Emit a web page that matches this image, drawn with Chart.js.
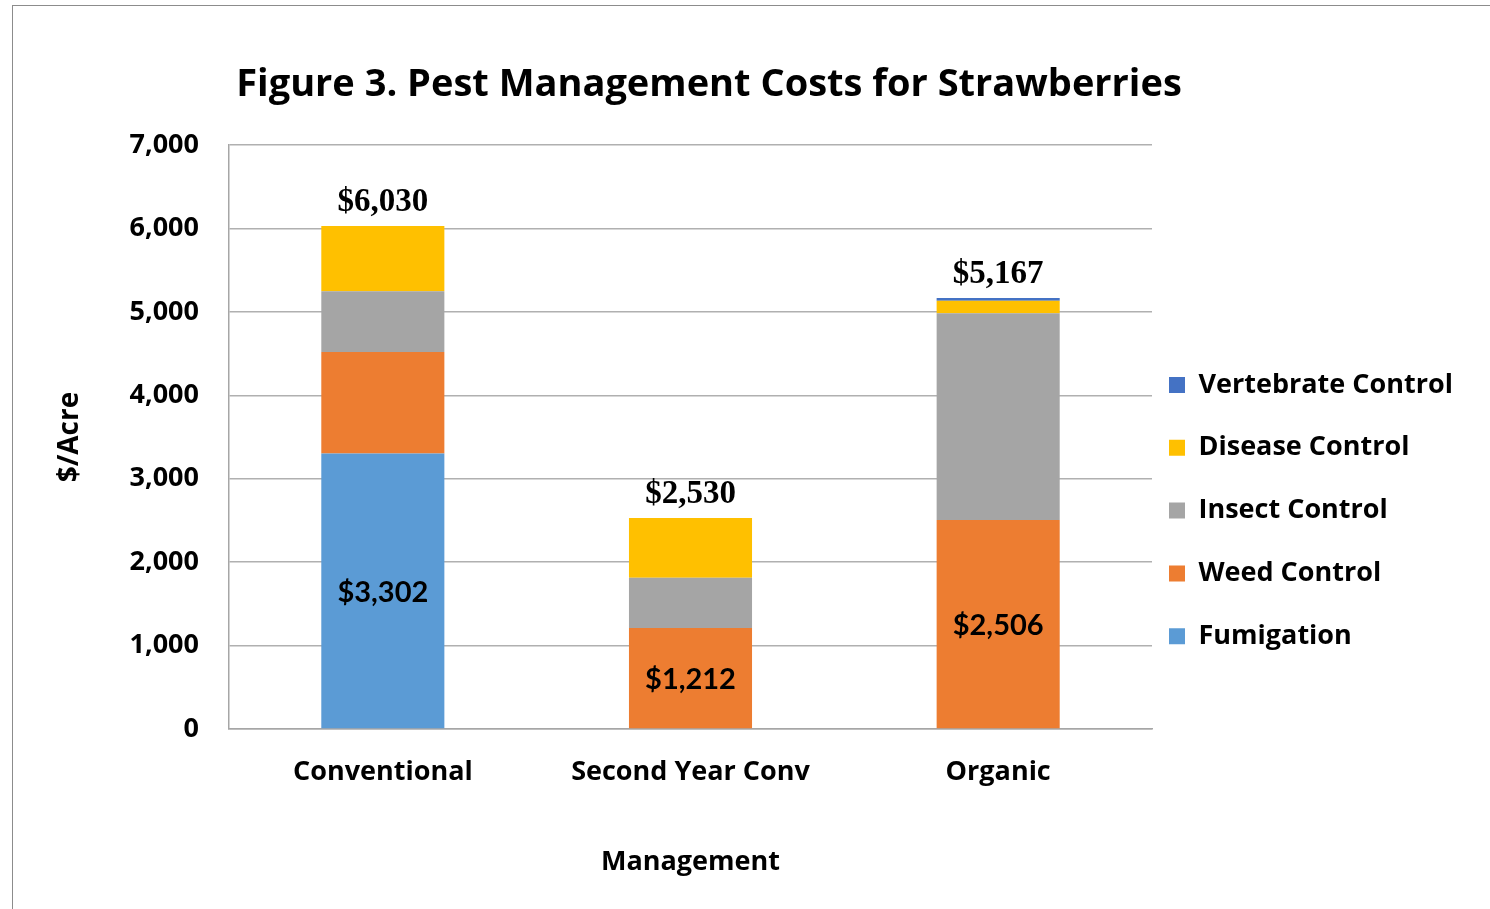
<!DOCTYPE html>
<html>
<head>
<meta charset="utf-8">
<script src="https://cdn.jsdelivr.net/npm/chart.js@4"></script>
<style>
    html, body { margin: 0; padding: 0; background: #fff; overflow: hidden; }
    #frame { position: absolute; left: 12px; top: 5px; width: 1500px; height: 1000px; border: 1.5px solid #8c8c8c; }
    #wrap { position: absolute; left: 0; top: 0; width: 1490px; height: 909px; }
</style>
</head>
<body>
<div id="frame"></div>
<div id="wrap"><canvas id="barChart"></canvas></div>
<script>
var categories = ['Conventional', 'Second Year Conv', 'Organic'];
var fumigation = [3302, 0, 0];
var weedControl = [1218, 1212, 2506];
var insectControl = [728, 600, 2476];
var diseaseControl = [782, 718, 152];
var vertebrateControl = [0, 0, 33];
var yTicks = [0, 1000, 2000, 3000, 4000, 5000, 6000, 7000];
// which series gets the value printed inside the bar, per category
var insideLabelSeries = [0, 1, 1];

var sans = '"Open Sans", "Noto Sans", sans-serif';
var sansNarrow = 'Lato, "Noto Sans", sans-serif';
var serif = '"Liberation Serif", "Times New Roman", serif';
var plotRight = 1152;

function money(v)
{
    return '$' + v.toLocaleString('en-US');
}

var barChartData = {
    labels: categories,
    datasets: [
        { label: 'Fumigation', data: fumigation, backgroundColor: '#5B9BD5' },
        { label: 'Weed Control', data: weedControl, backgroundColor: '#ED7D31' },
        { label: 'Insect Control', data: insectControl, backgroundColor: '#A5A5A5' },
        { label: 'Disease Control', data: diseaseControl, backgroundColor: '#FFC000' },
        { label: 'Vertebrate Control', data: vertebrateControl, backgroundColor: '#4472C4' }
    ]
};

// puts the legend and title where the original figure has them
var placeBoxes = {
    id: 'placeBoxes',
    afterLayout: function (chart)
    {
        var pad = chart.options.plugins.legend.labels.padding;
        chart.legend.left = 1169 - pad;
        chart.legend.right = chart.width;
        chart.legend.top = 371.5 - pad;
        chart.legend.bottom = chart.height;
        chart.titleBlock.left = 0;
        chart.titleBlock.right = 1418;
    }
};

var valueLabels = {
    id: 'valueLabels',
    afterDatasetsDraw: function (chart)
    {
        var ctx = chart.ctx;
        var sets = chart.data.datasets;
        ctx.save();
        ctx.fillStyle = '#000';
        ctx.textAlign = 'center';
        for (var i = 0; i < categories.length; i++)
        {
            var total = 0;
            var topY = null;
            for (var d = 0; d < sets.length; d++)
            {
                total += sets[d].data[i];
                var el = chart.getDatasetMeta(d).data[i];
                if (sets[d].data[i] > 0) topY = el.y;
            }
            var first = chart.getDatasetMeta(0).data[i];
            ctx.font = 'bold 33px ' + serif;
            ctx.textBaseline = 'bottom';
            ctx.fillText(money(total), first.x, topY - 7);

            var s = insideLabelSeries[i];
            var seg = chart.getDatasetMeta(s).data[i];
            ctx.font = 'bold 29px ' + sansNarrow;
            ctx.textBaseline = 'middle';
            ctx.fillText(money(sets[s].data[i]), seg.x, (seg.y + seg.base) / 2 + 2);
        }
        ctx.restore();
    }
};

var barChart = new Chart(document.getElementById('barChart').getContext('2d'), {
    type: 'bar',
    data: barChartData,
    plugins: [placeBoxes, valueLabels],
    options: {
        responsive: true,
        maintainAspectRatio: false,
        animation: false,
        layout: { padding: { top: 20, left: 0, right: 0, bottom: 0 } },
        datasets: { bar: { categoryPercentage: 1, barPercentage: 0.4 } },
        plugins: {
            tooltip: { enabled: false },
            title: {
                display: true,
                text: 'Figure 3. Pest Management Costs for Strawberries',
                color: '#000',
                font: { family: sans, size: 38, weight: 'bold', lineHeight: 1.2 },
                padding: { top: 42.5, bottom: 36.9 }
            },
            legend: {
                position: 'right',
                align: 'start',
                reverse: true,
                labels: {
                    boxWidth: 16,
                    boxHeight: 16,
                    padding: 35.8,
                    color: '#000',
                    font: { family: sans, size: 27, weight: 'bold' }
                }
            }
        },
        scales: {
            x: {
                stacked: true,
                afterFit: function (scale) { scale.height = 180; },
                grid: { display: false, drawTicks: false },
                border: { display: true, color: '#a6a6a6', width: 1.5 },
                ticks: { color: '#000', padding: 27, font: { family: sans, size: 27, weight: 'bold' } },
                title: {
                    display: true,
                    text: 'Management',
                    color: '#000',
                    font: { family: sans, size: 27, weight: 'bold', lineHeight: 1.2 },
                    padding: { top: 0, bottom: 30 }
                }
            },
            y: {
                stacked: true,
                min: yTicks[0],
                max: yTicks[yTicks.length - 1],
                afterFit: function (scale) { scale.width = 229; },
                afterBuildTicks: function (scale)
                {
                    scale.ticks = yTicks.map(function (v) { return { value: v }; });
                },
                grid: { color: '#b0b0b0', lineWidth: 1.5, drawTicks: false },
                border: { display: true, color: '#a6a6a6', width: 1.5 },
                ticks: {
                    color: '#000',
                    padding: 30,
                    font: { family: sans, size: 27, weight: 'bold' },
                    callback: function (v) { return v.toLocaleString('en-US'); }
                },
                title: {
                    display: true,
                    text: '$/Acre',
                    color: '#000',
                    font: { family: sans, size: 28, weight: 'bold', lineHeight: 1.2 },
                    padding: { top: 53, bottom: 0 }
                }
            }
        }
    }
});

// second pass: fix the plot's right edge whatever width the legend took
barChart.options.layout.padding.right = barChart.chartArea.right - plotRight;
barChart.update();
</script>
</body>
</html>
